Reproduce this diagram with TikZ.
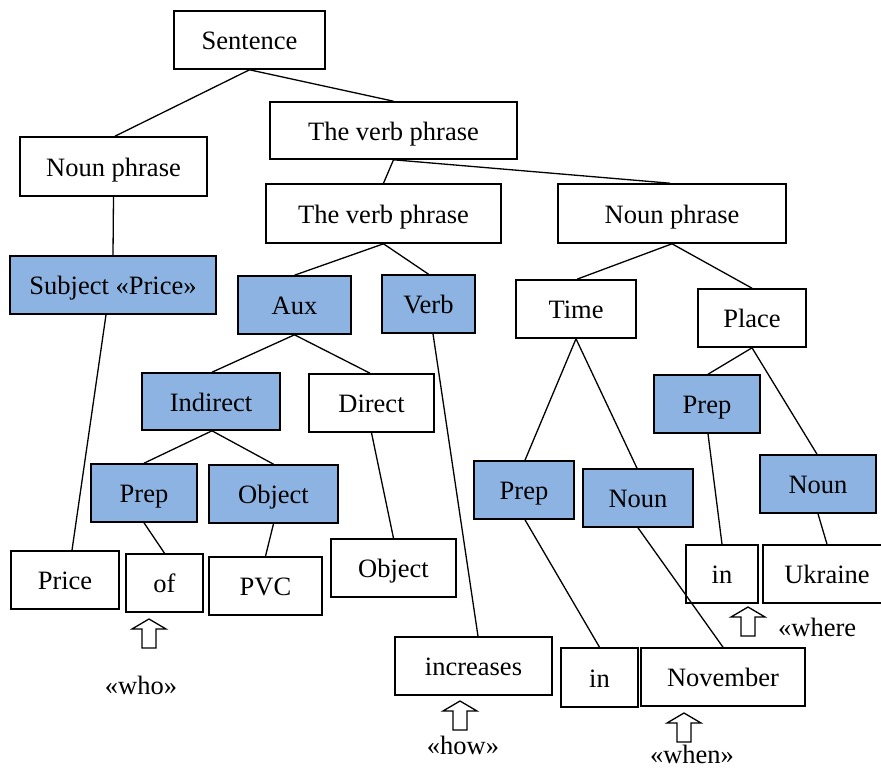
\documentclass[tikz,border=0pt]{standalone}
\usepackage{fontspec}
\setmainfont{Liberation Serif}
\definecolor{cellblue}{HTML}{8DB3E2}
\begin{document}
\begin{tikzpicture}[x=1pt,y=-1pt,
  box/.style={draw=black,line width=1.6pt,fill=white,inner sep=0pt,
    text height=19pt,text depth=0pt,
    font=\fontsize{26.5}{30}\selectfont},
  hl/.style={box,fill=cellblue},
  link/.style={line width=1.3pt,black},
  tag/.style={inner sep=0pt,font=\fontsize{26.5}{30}\selectfont},
  hollowup/.pic={\draw[line width=1.3pt,fill=white]
    (0,0) -- (17,10) -- (7,10) -- (7,29) -- (-7,29) -- (-7,10) -- (-17,10) -- cycle;}]
\useasboundingbox (0,0) rectangle (881,771);

% upper levels
\node[box,minimum width=151pt,minimum height=58pt] (sent) at (249.5,40) {Sentence};
\node[box,minimum width=247pt,minimum height=57pt] (vp1) at (393.5,130.5) {The verb phrase};
\node[box,minimum width=187pt,minimum height=59pt] (npl) at (113.5,166.5) {Noun phrase};
\node[box,minimum width=235pt,minimum height=59pt] (vp2) at (383.5,213.5) {The verb phrase};
\node[box,minimum width=228pt,minimum height=59pt] (npr) at (672,213.5) {Noun phrase};

% second level
\node[hl,minimum width=206pt,minimum height=58pt] (subj) at (113,285) {Subject «Price»};
\node[hl,minimum width=113pt,minimum height=58pt] (aux) at (294.5,305) {Aux};
\node[hl,minimum width=93pt,minimum height=58pt] (verb) at (428.5,304) {Verb};
\node[box,minimum width=120pt,minimum height=58pt] (time) at (576,309) {Time};
\node[box,minimum width=108pt,minimum height=58pt] (place) at (752,318) {Place};

% objects
\node[hl,minimum width=138pt,minimum height=57pt] (indir) at (211,401.5) {Indirect};
\node[box,minimum width=125pt,minimum height=58pt] (direct) at (371.5,403) {Direct};
\node[hl,minimum width=106pt,minimum height=58pt] (prepl) at (144,493) {Prep};
\node[hl,minimum width=129pt,minimum height=58pt] (objf) at (273.5,494) {Object};

% time and place parts
\node[hl,minimum width=100pt,minimum height=58pt] (prept) at (524,490) {Prep};
\node[hl,minimum width=110pt,minimum height=58pt] (nount) at (638,498) {Noun};
\node[hl,minimum width=106pt,minimum height=58pt] (prepp) at (707,404) {Prep};
\node[hl,minimum width=116pt,minimum height=58pt] (nounp) at (818,484) {Noun};

% words
\node[box,minimum width=108pt,minimum height=58pt] (price) at (65,580) {Price};
\node[box,minimum width=77pt,minimum height=58pt] (of) at (164.5,583) {of};
\node[box,minimum width=113pt,minimum height=58pt] (pvc) at (265.5,586) {PVC};
\node[box,minimum width=125pt,minimum height=58pt] (objw) at (393.5,568) {Object};
\node[box,minimum width=157pt,minimum height=58pt] (incr) at (473.5,666) {increases};
\node[box,minimum width=72pt,minimum height=58pt] (inp) at (722,574) {in};
\node[box,minimum width=128pt,minimum height=58pt] (ukr) at (827,574) {Ukraine};
\node[box,minimum width=77pt,minimum height=59pt] (int) at (599.5,677.5) {in};
\node[box,minimum width=164pt,minimum height=58pt] (nov) at (723,677) {November};

% tree edges
\draw[link] (sent.south) -- ([xshift=1.5pt]npl.north);
\draw[link] (sent.south) -- (vp1.north);
\draw[link] (npl.south) -- (subj.north);
\draw[link] (vp1.south) -- (vp2.north);
\draw[link] (vp1.south) -- ([xshift=-2pt]npr.north);
\draw[link] (vp2.south) -- (aux.north);
\draw[link] (vp2.south) -- (verb.north);
\draw[link] ([xshift=-7pt]subj.south) -- ([xshift=7pt]price.north);
\draw[link] (aux.south) -- ([xshift=1pt]indir.north);
\draw[link] (aux.south) -- ([xshift=-1.5pt]direct.north);
\draw[link] ([xshift=4.5pt]verb.south) -- ([xshift=4.5pt]incr.north);
\draw[link] ([xshift=1pt]indir.south) -- (prepl.north);
\draw[link] ([xshift=1pt]indir.south) -- (objf.north);
\draw[link] (prepl.south) -- (of.north);
\draw[link] (objf.south) -- (pvc.north);
\draw[link] (direct.south) -- (objw.north);
\draw[link] (npr.south) -- ([xshift=1pt]time.north);
\draw[link] (npr.south) -- (place.north);
\draw[link] (time.south) -- ([xshift=1pt]prept.north);
\draw[link] (time.south) -- ([xshift=-1pt]nount.north);
\draw[link] (place.south) -- ([xshift=1pt]prepp.north);
\draw[link] (place.south) -- ([xshift=-1pt]nounp.north);
\draw[link] ([xshift=1pt]prept.south) -- (int.north);
\draw[link] (nount.south) -- (nov.north);
\draw[link] ([xshift=1pt]prepp.south) -- (inp.north);
\draw[link] (nounp.south) -- (ukr.north);

% question markers
\pic at (149,619) {hollowup};
\pic at (460,701) {hollowup};
\pic at (684,713) {hollowup};
\pic at (748,607) {hollowup};
\node[tag] (who) at (141,685) {«who»};
\node[tag] (how) at (463,745) {«how»};
\node[tag,anchor=base] (when) at (692,763.5) {«when»};
\node[tag,anchor=west] (where) at (778,627) {«where};
\end{tikzpicture}
\end{document}
